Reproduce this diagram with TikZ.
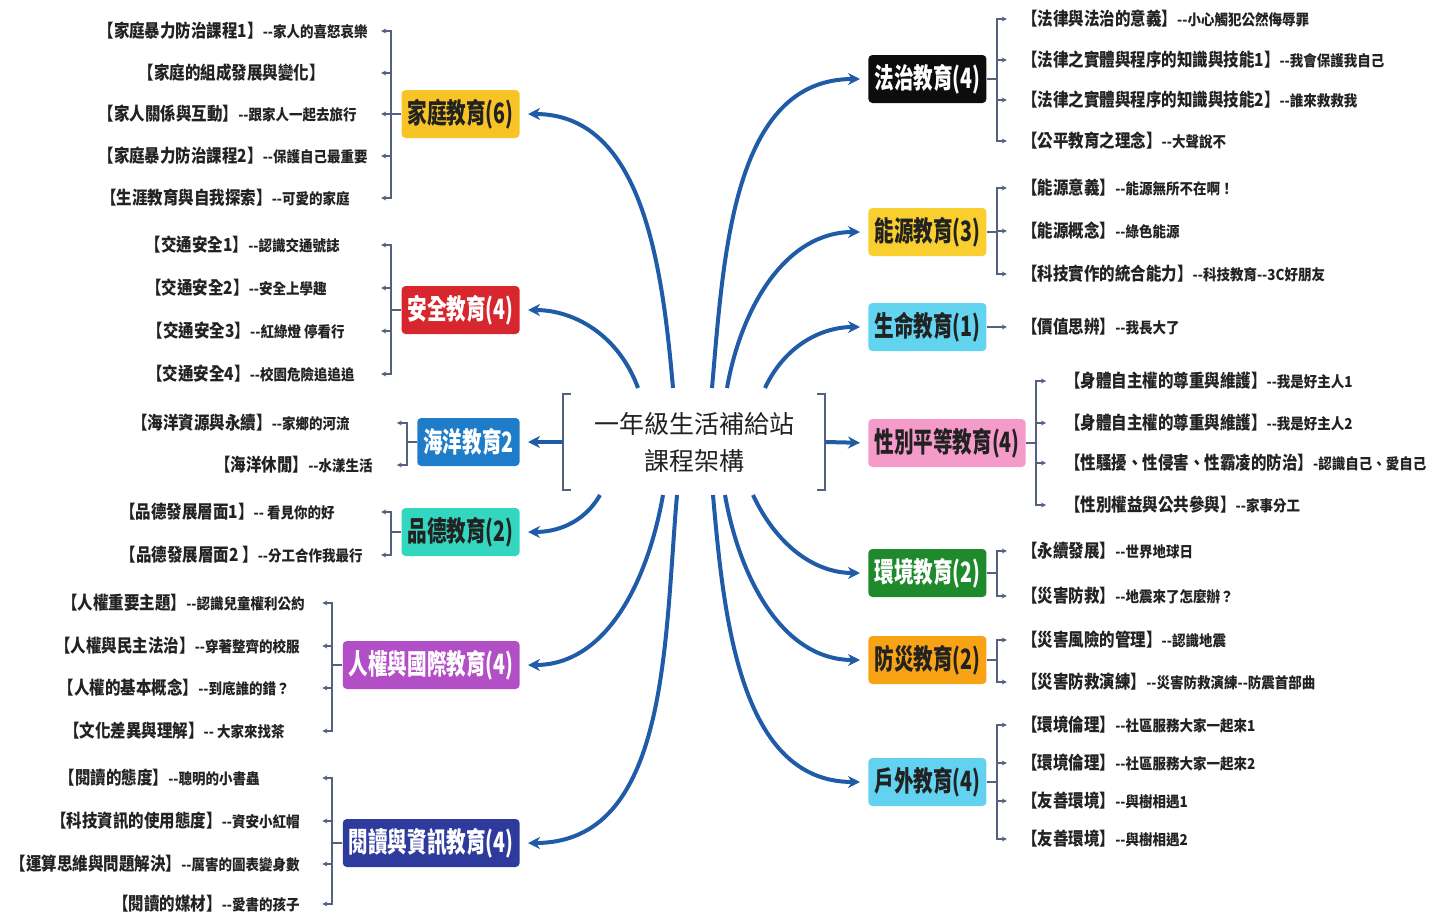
\documentclass[tikz,border=0pt]{standalone}
\usepackage{fontspec}
\setmainfont{Noto Sans CJK TC}
\newfontfamily\topicfont{Noto Sans CJK TC}[FakeStretch=0.7]
\newfontfamily\leaffont{Noto Sans CJK TC}[FakeStretch=0.86]
\newfontfamily\notefont{Noto Sans CJK TC}[FakeStretch=0.9]
\usetikzlibrary{arrows.meta,calc}
\definecolor{branchblue}{HTML}{1F5BA6}
\definecolor{twiggray}{HTML}{55617F}
\definecolor{inkgray}{HTML}{222222}
\tikzset{
    >=Stealth,
    every node/.style={rounded corners=2pt}
}
\newcommand{\leaftxt}[2]{{\leaffont\bfseries\fontsize{9}{10}\selectfont #1}{\notefont\bfseries\fontsize{7.5}{9}\selectfont #2}}

\begin{document}
\begin{tikzpicture}[x=0.5pt, y=-0.5pt,
  hub/.style={minimum width=131pt, minimum height=47.5pt, align=center, text=inkgray,
    font=\fontsize{12.5}{18.5}\selectfont},
  topic/.style={minimum height=24pt, inner xsep=3pt, inner ysep=0pt,
    font=\topicfont\bfseries\fontsize{14}{16}\selectfont},
  leaf/.style={inner sep=0pt, text=inkgray},
  branch/.style={-{Stealth[length=6pt,width=6pt]}, line width=2pt, draw=branchblue, shorten >=4pt},
  twig/.style={-{Stealth[length=2.5pt,width=2.5pt]}, line width=0.9pt, draw=twiggray},
  bracket/.style={line width=1pt, draw=twiggray}
]
  \useasboundingbox (0,0) rectangle (1435,916);

  % Centre
  \node[hub] (hub) at (694,442) {一年級生活補給站\\課程架構};
  \draw[bracket] ($(hub.north west)+(8,0)$) -- (hub.north west) -- (hub.south west) -- ++(8,0);
  \draw[bracket] ($(hub.north east)+(-8,0)$) -- (hub.north east) -- (hub.south east) -- ++(-8,0);

  % Left topics
  \node[topic, fill={rgb,255:red,247;green,195;blue,37}, text=inkgray, anchor=east] (fam) at (520,114) {家庭教育(6)};
  \node[topic, fill={rgb,255:red,215;green,38;blue,46}, text=white, anchor=east] (saf) at (520,310) {安全教育(4)};
  \node[topic, fill={rgb,255:red,30;green,124;blue,200}, text=white, anchor=east] (sea) at (520,442) {海洋教育2};
  \node[topic, fill={rgb,255:red,51;green,214;blue,191}, text=inkgray, anchor=east] (mor) at (520,532) {品德教育(2)};
  \node[topic, fill={rgb,255:red,178;green,79;blue,198}, text=white, anchor=east] (hum) at (520,665) {人權與國際教育(4)};
  \node[topic, fill={rgb,255:red,46;green,58;blue,156}, text=white, anchor=east] (rea) at (520,843) {閱讀與資訊教育(4)};

  % Right topics
  \node[topic, fill={rgb,255:red,13;green,13;blue,13}, text=white, anchor=west] (law) at (868,79) {法治教育(4)};
  \node[topic, fill={rgb,255:red,248;green,207;blue,46}, text=inkgray, anchor=west] (ene) at (868,232) {能源教育(3)};
  \node[topic, fill={rgb,255:red,98;green,212;blue,240}, text=inkgray, anchor=west] (lif) at (868,327) {生命教育(1)};
  \node[topic, fill={rgb,255:red,245;green,155;blue,201}, text=inkgray, anchor=west] (gen) at (868,443) {性別平等教育(4)};
  \node[topic, fill={rgb,255:red,30;green,138;blue,44}, text=white, anchor=west] (env) at (868,573) {環境教育(2)};
  \node[topic, fill={rgb,255:red,247;green,163;blue,21}, text=inkgray, anchor=west] (dis) at (868,660) {防災教育(2)};
  \node[topic, fill={rgb,255:red,99;green,210;blue,240}, text=inkgray, anchor=west] (out) at (868,782) {戶外教育(4)};

  % Branches
  \draw[branch] ($(hub.center)+(-21,-54)$) to[out=95,in=0] (fam.east);
  \draw[branch] ($(hub.center)+(-56,-54)$) to[out=110,in=0] (saf.east);
  \draw[branch] (hub.west) -- (sea.east);
  \draw[branch] ($(hub.center)+(-94,53)$) to[out=-120,in=0] (mor.east);
  \draw[branch] ($(hub.center)+(-31,53)$) to[out=-100,in=0] (hum.east);
  \draw[branch] ($(hub.center)+(-17,53)$) to[out=-95,in=0] (rea.east);
  \draw[branch] ($(hub.center)+(18,-54)$) to[out=85,in=180] (law.west);
  \draw[branch] ($(hub.center)+(33,-54)$) to[out=80,in=180] (ene.west);
  \draw[branch] ($(hub.center)+(71,-54)$) to[out=65,in=180] (lif.west);
  \draw[branch] (hub.east) -- (gen.west);
  \draw[branch] ($(hub.center)+(59,53)$) to[out=-65,in=180] (env.west);
  \draw[branch] ($(hub.center)+(31,53)$) to[out=-80,in=180] (dis.west);
  \draw[branch] ($(hub.center)+(19,53)$) to[out=-85,in=180] (out.west);

  % Left leaves
  \node[leaf, anchor=east] (f1) at (368,31) {\leaftxt{【家庭暴力防治課程1】}{--家人的喜怒哀樂}};
  \node[leaf, anchor=east] (f2) at (325,73) {\leaftxt{【家庭的組成發展與變化】}{}};
  \node[leaf, anchor=east] (f3) at (357,114) {\leaftxt{【家人關係與互動】}{--跟家人一起去旅行}};
  \node[leaf, anchor=east] (f4) at (368,156) {\leaftxt{【家庭暴力防治課程2】}{--保護自己最重要}};
  \node[leaf, anchor=east] (f5) at (350,198) {\leaftxt{【生涯教育與自我探索】}{--可愛的家庭}};

  \node[leaf, anchor=east] (s1) at (340,245) {\leaftxt{【交通安全1】}{--認識交通號誌}};
  \node[leaf, anchor=east] (s2) at (327,288) {\leaftxt{【交通安全2】}{--安全上學趣}};
  \node[leaf, anchor=east] (s3) at (345,331) {\leaftxt{【交通安全3】}{--紅綠燈 停看行}};
  \node[leaf, anchor=east] (s4) at (355,374) {\leaftxt{【交通安全4】}{--校園危險追追追}};

  \node[leaf, anchor=east] (o1) at (350,423) {\leaftxt{【海洋資源與永續】}{--家鄉的河流}};
  \node[leaf, anchor=east] (o2) at (373,465) {\leaftxt{【海洋休閒】}{--水漾生活}};

  \node[leaf, anchor=east] (m1) at (335,512) {\leaftxt{【品德發展層面1】}{-- 看見你的好}};
  \node[leaf, anchor=east] (m2) at (363,555) {\leaftxt{【品德發展層面2 】}{--分工合作我最行}};

  \node[leaf, anchor=east] (h1) at (305,603) {\leaftxt{【人權重要主題】}{--認識兒童權利公約}};
  \node[leaf, anchor=east] (h2) at (300,646) {\leaftxt{【人權與民主法治】}{--穿著整齊的校服}};
  \node[leaf, anchor=east] (h3) at (290,688) {\leaftxt{【人權的基本概念】}{--到底誰的錯？}};
  \node[leaf, anchor=east] (h4) at (285,731) {\leaftxt{【文化差異與理解】}{-- 大家來找茶}};

  \node[leaf, anchor=east] (r1) at (260,778) {\leaftxt{【閱讀的態度】}{--聰明的小書蟲}};
  \node[leaf, anchor=east] (r2) at (300,821) {\leaftxt{【科技資訊的使用態度】}{--資安小紅帽}};
  \node[leaf, anchor=east] (r3) at (300,864) {\leaftxt{【運算思維與問題解決】}{--厲害的圖表變身數}};
  \node[leaf, anchor=east] (r4) at (300,904) {\leaftxt{【閱讀的媒材】}{--愛書的孩子}};

  % Right leaves
  \node[leaf, anchor=west] (l1) at (1022,19) {\leaftxt{【法律與法治的意義】}{--小心觸犯公然侮辱罪}};
  \node[leaf, anchor=west] (l2) at (1022,60) {\leaftxt{【法律之實體與程序的知識與技能1】}{--我會保護我自己}};
  \node[leaf, anchor=west] (l3) at (1022,100) {\leaftxt{【法律之實體與程序的知識與技能2】}{--誰來救救我}};
  \node[leaf, anchor=west] (l4) at (1022,141) {\leaftxt{【公平教育之理念】}{--大聲說不}};

  \node[leaf, anchor=west] (e1) at (1022,188) {\leaftxt{【能源意義】}{--能源無所不在啊！}};
  \node[leaf, anchor=west] (e2) at (1022,231) {\leaftxt{【能源概念】}{--綠色能源}};
  \node[leaf, anchor=west] (e3) at (1022,274) {\leaftxt{【科技實作的統合能力】}{--科技教育--3C好朋友}};

  \node[leaf, anchor=west] (v1) at (1022,327) {\leaftxt{【價值思辨】}{--我長大了}};

  \node[leaf, anchor=west] (g1) at (1065,381) {\leaftxt{【身體自主權的尊重與維護】}{--我是好主人1}};
  \node[leaf, anchor=west] (g2) at (1065,423) {\leaftxt{【身體自主權的尊重與維護】}{--我是好主人2}};
  \node[leaf, anchor=west] (g3) at (1065,463) {\leaftxt{【性騷擾、性侵害、性霸凌的防治】}{-認識自己、愛自己}};
  \node[leaf, anchor=west] (g4) at (1065,505) {\leaftxt{【性別權益與公共參與】}{--家事分工}};

  \node[leaf, anchor=west] (n1) at (1022,551) {\leaftxt{【永續發展】}{--世界地球日}};
  \node[leaf, anchor=west] (n2) at (1022,596) {\leaftxt{【災害防救】}{--地震來了怎麼辦？}};

  \node[leaf, anchor=west] (d1) at (1022,640) {\leaftxt{【災害風險的管理】}{--認識地震}};
  \node[leaf, anchor=west] (d2) at (1022,682) {\leaftxt{【災害防救演練】}{--災害防救演練--防震首部曲}};

  \node[leaf, anchor=west] (u1) at (1022,725) {\leaftxt{【環境倫理】}{--社區服務大家一起來1}};
  \node[leaf, anchor=west] (u2) at (1022,763) {\leaftxt{【環境倫理】}{--社區服務大家一起來2}};
  \node[leaf, anchor=west] (u3) at (1022,801) {\leaftxt{【友善環境】}{--與樹相遇1}};
  \node[leaf, anchor=west] (u4) at (1022,839) {\leaftxt{【友善環境】}{--與樹相遇2}};

  % Leaf brackets
  \foreach \k in {f1,f2,f3,f4,f5}
    \draw[twig] (fam.west) -- ++(-10,0) |- ($(fam.west |- \k)+(-20,0)$);
  \foreach \k in {s1,s2,s3,s4}
    \draw[twig] (saf.west) -- ++(-10,0) |- ($(saf.west |- \k)+(-20,0)$);
  \foreach \k in {o1,o2}
    \draw[twig] (sea.west) -- ++(-10,0) |- ($(sea.west |- \k)+(-20,0)$);
  \foreach \k in {m1,m2}
    \draw[twig] (mor.west) -- ++(-10,0) |- ($(mor.west |- \k)+(-20,0)$);
  \foreach \k in {h1,h2,h3,h4}
    \draw[twig] (hum.west) -- ++(-10,0) |- ($(hum.west |- \k)+(-20,0)$);
  \foreach \k in {r1,r2,r3,r4}
    \draw[twig] (rea.west) -- ++(-10,0) |- ($(rea.west |- \k)+(-20,0)$);
  \foreach \k in {l1,l2,l3,l4}
    \draw[twig] (law.east) -- ++(10,0) |- ($(law.east |- \k)+(20,0)$);
  \foreach \k in {e1,e2,e3}
    \draw[twig] (ene.east) -- ++(10,0) |- ($(ene.east |- \k)+(20,0)$);
  \draw[twig] (lif.east) -- (v1.west -| {$(lif.east)+(20,0)$});
  \foreach \k in {g1,g2,g3,g4}
    \draw[twig] (gen.east) -- ++(10,0) |- ($(gen.east |- \k)+(20,0)$);
  \foreach \k in {n1,n2}
    \draw[twig] (env.east) -- ++(10,0) |- ($(env.east |- \k)+(20,0)$);
  \foreach \k in {d1,d2}
    \draw[twig] (dis.east) -- ++(10,0) |- ($(dis.east |- \k)+(20,0)$);
  \foreach \k in {u1,u2,u3,u4}
    \draw[twig] (out.east) -- ++(10,0) |- ($(out.east |- \k)+(20,0)$);
\end{tikzpicture}
\end{document}
